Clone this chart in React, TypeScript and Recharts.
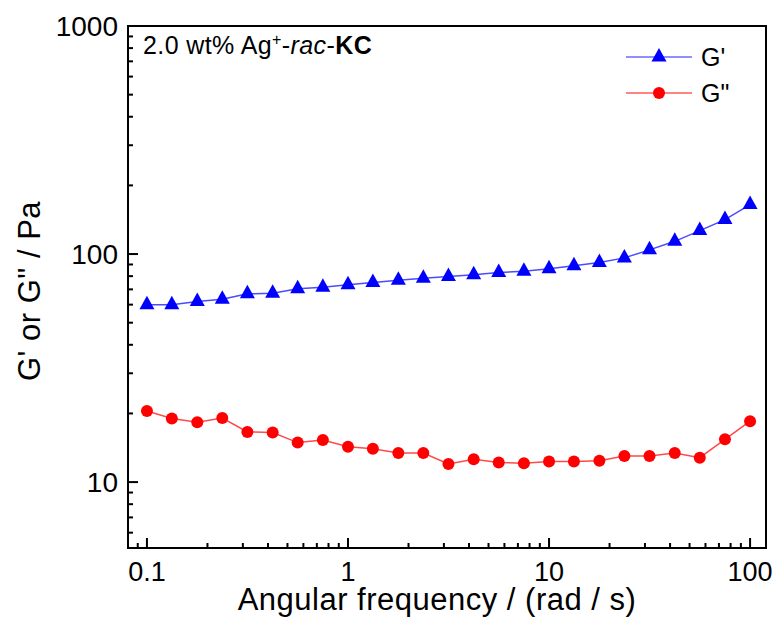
import React from "react";
import { LineChart, Line, XAxis, YAxis, ReferenceArea, Label } from "recharts";

// angular frequency (rad/s), 8 points per decade
const freq = [0.1, 0.133, 0.178, 0.237, 0.316, 0.422, 0.562, 0.75, 1, 1.33, 1.78, 2.37, 3.16, 4.22, 5.62, 7.5, 10, 13.3, 17.8, 23.7, 31.6, 42.2, 56.2, 75, 100];
const gPrime = [60, 60, 62, 63.4, 66.9, 67.3, 70.5, 71.6, 73.3, 75, 76.8, 78.3, 79.8, 81.1, 83, 84.1, 86.1, 88.8, 91.8, 96.2, 104.3, 113.7, 126.7, 141.6, 164.8];
const gDouble = [20.5, 19, 18.3, 19.1, 16.6, 16.5, 14.9, 15.3, 14.3, 14, 13.4, 13.4, 12, 12.6, 12.2, 12.1, 12.3, 12.3, 12.4, 13, 13, 13.4, 12.8, 15.4, 18.5];

const xTicks = [0.09, 0.1, 0.2, 0.3, 0.4, 0.5, 0.6, 0.7, 0.8, 0.9, 1, 2, 3, 4, 5, 6, 7, 8, 9, 10, 20, 30, 40, 50, 60, 70, 80, 90, 100];
const yTicks = [6, 7, 8, 9, 10, 20, 30, 40, 50, 60, 70, 80, 90, 100, 200, 300, 400, 500, 600, 700, 800, 900, 1000];

const data = freq.map((f, i) => ({ f, gp: gPrime[i], gpp: gDouble[i] }));

const FONT = '"Liberation Sans", Arial, sans-serif';
const LEFT = 128;
const BOTTOM = 548;
const X_DOMAIN = [0.0805, 120];
const Y_DOMAIN = [5.14, 1000];

const isMajor = (v: number) => Math.abs(Math.log10(v) - Math.round(Math.log10(v))) < 1e-6;

const XTick = (props: any) => {
  const { x, payload } = props;
  const major = isMajor(payload.value);
  return (
    <g>
      <line x1={x} x2={x} y1={BOTTOM} y2={BOTTOM - (major ? 10 : 5)} stroke="#000" strokeWidth={2} />
      {major && (
        <text x={x} y={581} textAnchor="middle" fontSize={27} fontFamily={FONT} fill="#000">
          {payload.value}
        </text>
      )}
    </g>
  );
};

const YTick = (props: any) => {
  const { y, payload } = props;
  const major = isMajor(payload.value);
  return (
    <g>
      <line x1={LEFT} x2={LEFT + (major ? 10 : 5)} y1={y} y2={y} stroke="#000" strokeWidth={2} />
      {major && (
        <text x={118} y={y + 10} textAnchor="end" fontSize={28} fontFamily={FONT} fill="#000">
          {payload.value}
        </text>
      )}
    </g>
  );
};

const Triangle = (props: any) => {
  const { cx, cy, index } = props;
  if (cx == null || cy == null) return null;
  return <polygon key={index} points={`${cx},${cy - 9} ${cx - 7.5},${cy + 4.5} ${cx + 7.5},${cy + 4.5}`} fill="#0000ff" />;
};

const Circle = (props: any) => {
  const { cx, cy, index } = props;
  if (cx == null || cy == null) return null;
  return <circle key={index} cx={cx} cy={cy} r={6} fill="#ff0000" />;
};

const legendItems = [
  { name: "G'", color: "#0000ff", line: "#6a6aff", tri: true },
  { name: 'G"', color: "#ff0000", line: "#ff5a5a", tri: false },
];

const LegendBox = () => (
  <div style={{ position: "absolute", left: 626, top: 39, fontFamily: FONT, fontSize: 25 }}>
    {legendItems.map((s) => (
      <div key={s.name} style={{ display: "flex", alignItems: "center", height: 36 }}>
        <svg width={68} height={20}>
          <line x1={0} x2={66} y1={10} y2={10} stroke={s.line} strokeWidth={1.5} />
          {s.tri ? (
            <polygon points="33,1 25.5,14.5 40.5,14.5" fill={s.color} />
          ) : (
            <circle cx={33} cy={10} r={6} fill={s.color} />
          )}
        </svg>
        <span style={{ marginLeft: 7 }}>{s.name}</span>
      </div>
    ))}
  </div>
);

export default function App() {
  return (
    <div style={{ position: "absolute", left: 0, top: 0, width: 777, height: 627, background: "#fff" }}>
      <LineChart width={777} height={627} data={data} margin={{ top: 26, right: 11, bottom: 19, left: 28 }}>
        <ReferenceArea x1={X_DOMAIN[0]} x2={X_DOMAIN[1]} y1={Y_DOMAIN[0]} y2={Y_DOMAIN[1]} fill="none" stroke="#000" strokeWidth={2} ifOverflow="visible" />
        <XAxis
          dataKey="f"
          type="number"
          scale="log"
          domain={X_DOMAIN}
          allowDataOverflow
          ticks={xTicks}
          interval={0}
          tick={<XTick />}
          tickLine={false}
          axisLine={{ stroke: "#000", strokeWidth: 2 }}
          height={60}
        >
          <Label
            content={() => (
              <text x={437} y={610} textAnchor="middle" fontSize={31} letterSpacing={0.5} fontFamily={FONT} fill="#000">
                Angular frequency / (rad / s)
              </text>
            )}
          />
        </XAxis>
        <YAxis
          type="number"
          scale="log"
          domain={Y_DOMAIN}
          allowDataOverflow
          ticks={yTicks}
          interval={0}
          tick={<YTick />}
          tickLine={false}
          axisLine={{ stroke: "#000", strokeWidth: 2 }}
          width={100}
        >
          <Label
            content={() => (
              <text x={40} y={291} transform="rotate(-90 40 291)" textAnchor="middle" fontSize={31} letterSpacing={0.5} fontFamily={FONT} fill="#000">
                G' or G" / Pa
              </text>
            )}
          />
        </YAxis>
        <Line dataKey="gp" name="G'" stroke="#4a4aff" strokeWidth={1.5} dot={<Triangle />} activeDot={false} isAnimationActive={false} />
        <Line dataKey="gpp" name='G"' stroke="#ff4a4a" strokeWidth={1.5} dot={<Circle />} activeDot={false} isAnimationActive={false} />
      </LineChart>
      <LegendBox />
      <div style={{ position: "absolute", left: 143, top: 31, fontFamily: FONT, fontSize: 25, letterSpacing: 0.4, color: "#000", whiteSpace: "nowrap" }}>
        2.0 wt% Ag<sup style={{ fontSize: 16 }}>+</sup>-<i>rac</i>-<b>KC</b>
      </div>
    </div>
  );
}
